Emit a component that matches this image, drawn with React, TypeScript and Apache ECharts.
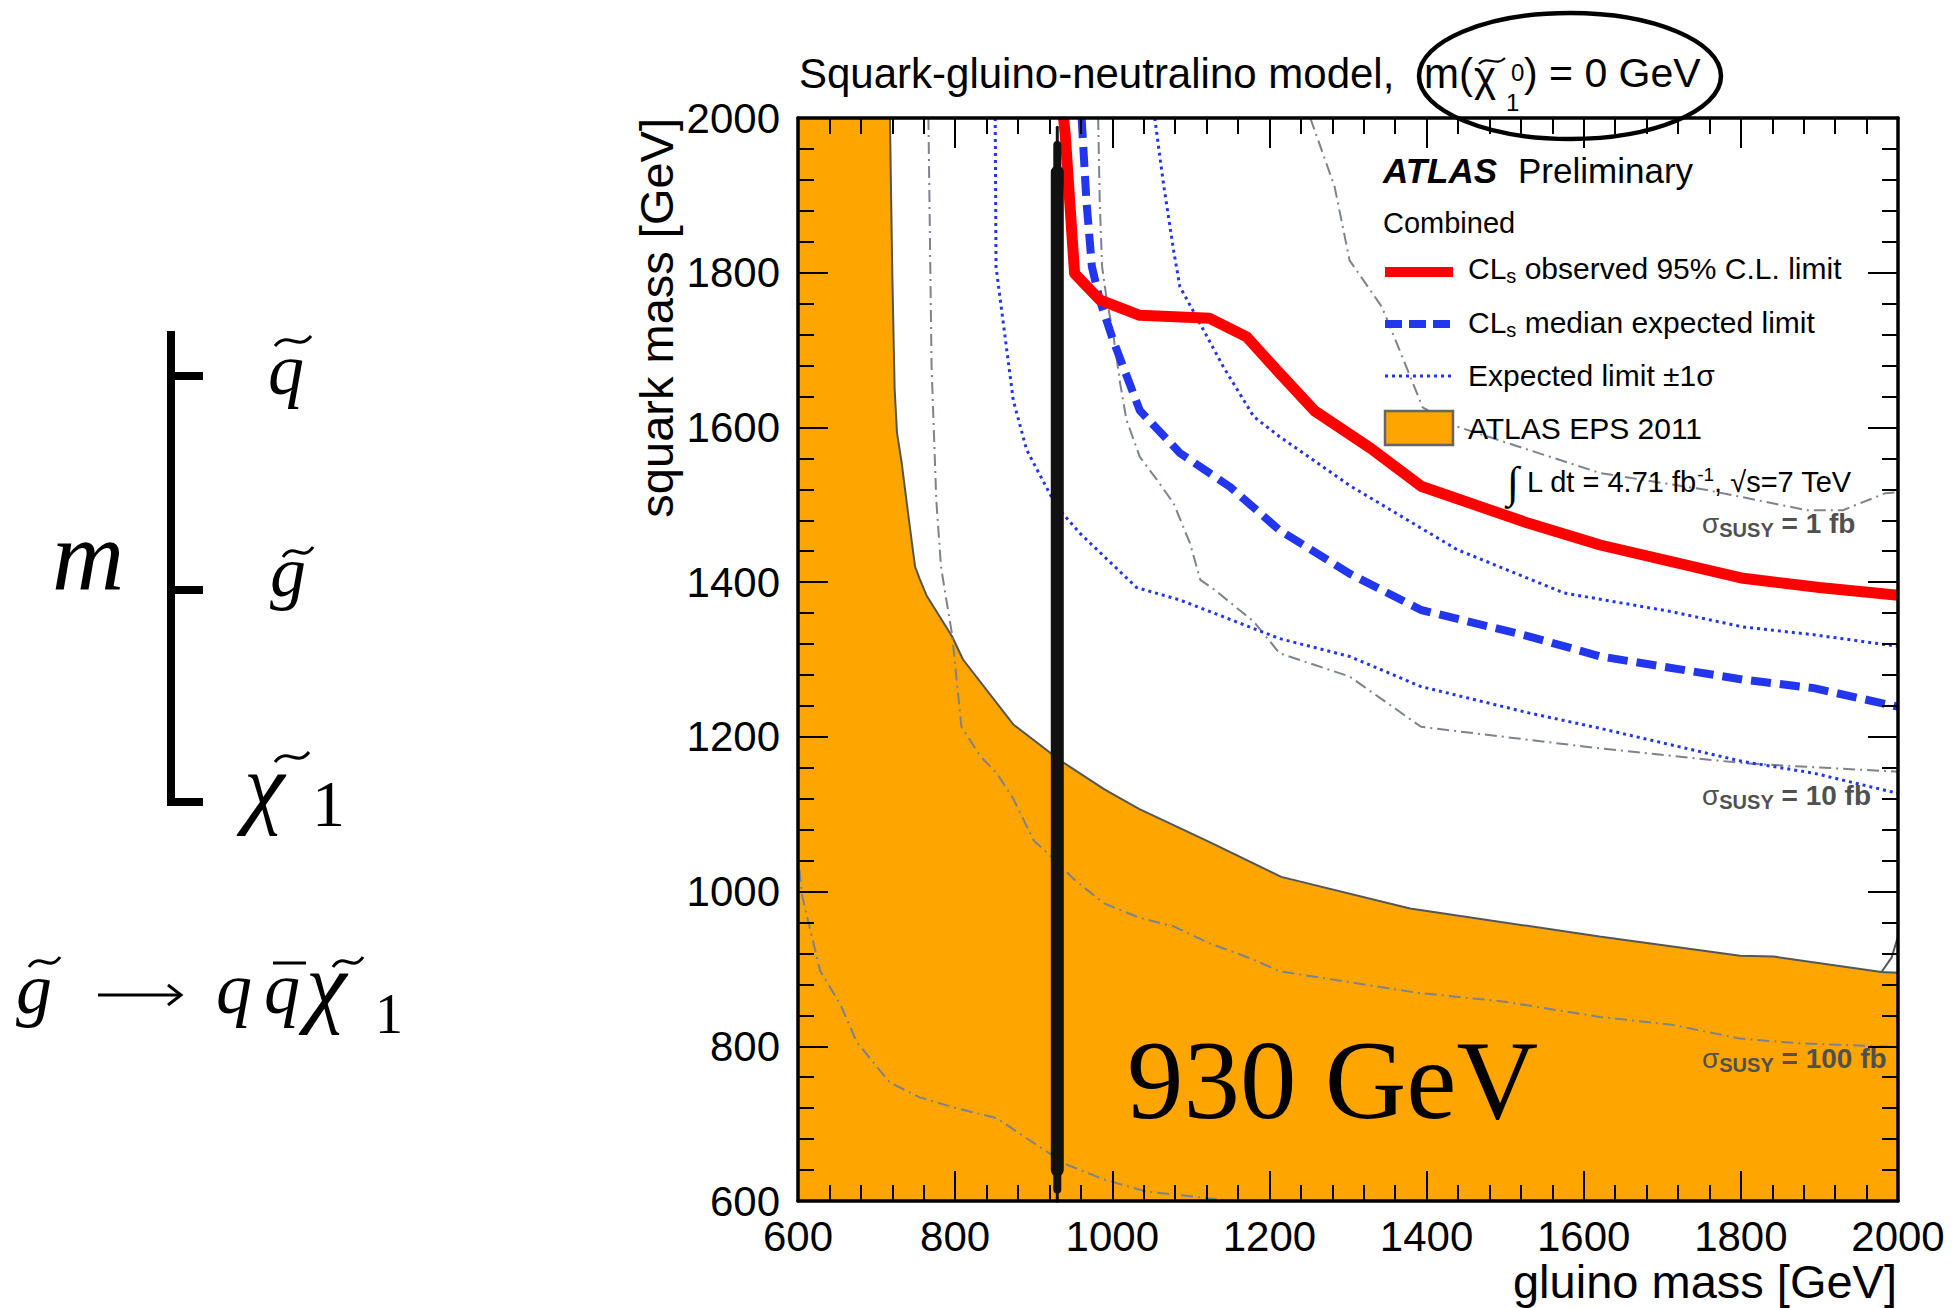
import React, { useEffect, useRef } from "react";
import * as echarts from "echarts";

// ---- axes ----
const axisMin = 600;
const axisMax = 2000;
const axisStep = 200;

// ---- ATLAS EPS 2011 excluded region (gluino, squark) ----
const epsG = [600, 717, 720, 723, 726, 732, 740, 749, 755, 764, 796, 810, 874, 933, 990, 1034, 1124, 1215, 1379, 1620, 1799, 1842, 1979, 2000];
const epsS = [2000, 2000, 1800, 1650, 1593, 1554, 1490, 1420, 1404, 1382, 1330, 1300, 1216, 1170, 1132, 1107, 1064, 1019, 978, 942, 917, 916, 896, 895];
const epsTailG = [1979, 1992, 2000];
const epsTailS = [896, 915, 942];

// ---- CLs observed 95% C.L. limit ----
const obsG = [938, 940, 952, 984, 1035, 1124, 1171, 1213, 1258, 1329, 1393, 1530, 1621, 1803, 1900, 2000];
const obsS = [2000, 1980, 1799, 1765, 1745, 1741, 1717, 1670, 1621, 1573, 1524, 1476, 1448, 1405, 1393, 1383];

// ---- CLs median expected limit ----
const expG = [961, 967, 974, 984, 1001, 1035, 1086, 1150, 1213, 1302, 1393, 1530, 1621, 1803, 1893, 2000];
const expS = [2000, 1894, 1808, 1765, 1713, 1622, 1567, 1523, 1467, 1411, 1364, 1330, 1304, 1274, 1263, 1239];

// ---- expected limit -1 sigma / +1 sigma ----
const expLoG = [851, 852, 874, 891, 929, 959, 1031, 1086, 1213, 1302, 1393, 1530, 1621, 1803, 1893, 2000];
const expLoS = [2000, 1808, 1635, 1571, 1498, 1463, 1393, 1377, 1327, 1304, 1265, 1231, 1211, 1168, 1153, 1127];
const expHiG = [1054, 1065, 1078, 1086, 1107, 1141, 1180, 1213, 1302, 1439, 1575, 1711, 1803, 1893, 2000];
const expHiS = [2000, 1916, 1829, 1782, 1743, 1679, 1614, 1588, 1525, 1442, 1386, 1362, 1342, 1332, 1317];

// ---- cross-section contours ----
const xs1G = [1252, 1283, 1302, 1343, 1362, 1395, 1439, 1621, 1757, 1884, 1930, 1984, 2000];
const xs1S = [2000, 1911, 1816, 1756, 1709, 1626, 1601, 1541, 1519, 1493, 1493, 1515, 1516];
const xs10G = [982, 984, 987, 993, 1001, 1010, 1018, 1035, 1057, 1078, 1099, 1112, 1129, 1180, 1213, 1302, 1393, 1621, 1803, 1870, 2000];
const xs10S = [2000, 1894, 1808, 1765, 1722, 1657, 1610, 1562, 1532, 1502, 1450, 1403, 1391, 1349, 1308, 1278, 1213, 1185, 1166, 1162, 1155];
const xs100G = [766, 770, 776, 782, 789, 796, 808, 832, 853, 874, 900, 929, 950, 989, 1035, 1078, 1124, 1175, 1213, 1389, 1497, 1620, 1711, 1799, 1872, 2000];
const xs100S = [2000, 1679, 1506, 1420, 1376, 1333, 1213, 1175, 1153, 1120, 1066, 1039, 1017, 985, 966, 955, 933, 914, 897, 869, 858, 838, 828, 810, 804, 799];
const xsLowG = [602, 605, 628, 654, 675, 717, 755, 798, 853, 900, 942, 989, 1044, 1100, 1155];
const xsLowS = [1028, 996, 898, 854, 805, 753, 734, 721, 707, 675, 647, 628, 612, 606, 600];

// ---- hand-marked gluino limit ----
const gluinoLimit = 930;
const markTop = [1988, 1965, 1930];
const markBottom = [596, 615, 640];

const SANS = '"Liberation Sans", Arial, Helvetica, sans-serif';
const SERIF = '"Liberation Serif", "Times New Roman", serif';

const pairs = (g: number[], s: number[]) => g.map((x, i) => [x, s[i]]);

function lineSeries(data: number[][], color: string, width: number, type: any, z = 3, cap = "butt"): any {
  return {
    type: "line",
    data,
    symbol: "none",
    silent: true,
    z,
    lineStyle: { color, width, type, cap, join: "round" },
  };
}

function txt(x: number, y: number, text: string, size: number, o: any = {}): any {
  return {
    type: "text",
    x,
    y,
    z: 50,
    rotation: o.rotation || 0,
    style: {
      text,
      fontSize: size,
      fontFamily: o.family || SANS,
      fontWeight: o.weight || "normal",
      fontStyle: o.style || "normal",
      fill: o.color || "#000",
      align: o.align || "left",
      verticalAlign: o.valign || "middle",
      rich: o.rich,
    },
  };
}

function tilde(xa: number, xb: number, yc: number, a: number, w = 3): any {
  const span = xb - xa;
  return {
    type: "bezierCurve",
    z: 50,
    shape: {
      x1: xa, y1: yc + a,
      cpx1: xa + span * 0.35, cpy1: yc - 2.2 * a,
      cpx2: xa + span * 0.65, cpy2: yc + 2.2 * a,
      x2: xb, y2: yc - a,
    },
    style: { stroke: "#000", lineWidth: w, fill: null },
  };
}

function seg(x1: number, y1: number, x2: number, y2: number, w: number, color = "#000", dash: any = null): any {
  return {
    type: "line",
    z: 50,
    shape: { x1, y1, x2, y2 },
    style: { stroke: color, lineWidth: w, lineDash: dash, lineCap: "butt" },
  };
}

function axis(position: string, showLabel: boolean, isY: boolean): any {
  return {
    type: "value",
    position,
    min: axisMin,
    max: axisMax,
    interval: axisStep,
    z: 10,
    axisLine: { show: true, onZero: false, lineStyle: { color: "#000", width: 3.5 } },
    axisTick: { show: true, inside: true, length: 30, lineStyle: { color: "#000", width: 2 } },
    minorTick: { show: true, splitNumber: 5, length: 16, lineStyle: { color: "#000", width: 2 } },
    splitLine: { show: false },
    minorSplitLine: { show: false },
    axisLabel: {
      show: showLabel,
      color: "#000",
      fontSize: 42,
      fontFamily: SANS,
      margin: isY ? 18 : 14,
      showMinLabel: true,
      showMaxLabel: true,
      formatter: (v: number) => String(v),
    },
  };
}

const subStyle = (size: number, base: any = {}) => ({ fontSize: size, fontFamily: SANS, lineHeight: size, verticalAlign: "bottom", ...base });
const supStyle = (size: number, base: any = {}) => ({ fontSize: size, fontFamily: SANS, lineHeight: size, verticalAlign: "top", ...base });

export default function App() {
  const ref = useRef<HTMLDivElement>(null);

  useEffect(() => {
    if (!ref.current) return;
    const chart = echarts.init(ref.current, null, { renderer: "svg" });

    const gray = "#7d828c";
    const dashDot = [12, 5, 2, 5];
    const blue = "#2236ee";

    const legendText = { fontSize: 30, fontFamily: SANS, lineHeight: 36, fill: "#000" };
    const sigmaRich = {
      g: { fontSize: 28, fontFamily: SANS, lineHeight: 34, fill: "#505050" },
      b: subStyle(20, { fontWeight: "bold", fill: "#505050" }),
      c: { fontSize: 28, fontFamily: SANS, fontWeight: "bold", lineHeight: 34, fill: "#505050" },
    };
    const it = { family: SERIF, style: "italic" };

    const graphics: any[] = [
      // title
      txt(799, 73, "Squark-gluino-neutralino model,", 42),
      txt(1424, 73, "m(", 42),
      txt(1474, 76, "χ", 42),
      tilde(1479, 1505, 61, 3, 2.2),
      txt(1511, 72, "0", 24),
      txt(1506, 102, "1", 24),
      txt(1524, 73, ") = 0 GeV", 41),
      {
        type: "ellipse",
        z: 50,
        shape: { cx: 1570, cy: 76, rx: 151, ry: 63 },
        style: { fill: null, stroke: "#000", lineWidth: 4.5 },
      },
      // axis titles
      txt(656, 118, "squark mass [GeV]", 47, { rotation: Math.PI / 2, align: "right" }),
      txt(1897, 1281, "gluino mass [GeV]", 47, { align: "right" }),
      // ATLAS labels
      txt(1383, 170, "ATLAS", 35, { weight: "bold", style: "italic" }),
      txt(1518, 170, "Preliminary", 35),
      txt(1383, 223, "Combined", 29),
      // legend samples
      seg(1385, 272, 1453, 272, 10, "#ff0000"),
      seg(1385, 324, 1453, 324, 8, blue, [17, 7]),
      seg(1385, 376, 1453, 376, 3, blue, [3, 4]),
      {
        type: "rect",
        z: 50,
        shape: { x: 1385, y: 411, width: 68, height: 34 },
        style: { fill: "#ffa500", stroke: "#666", lineWidth: 2.5 },
      },
      txt(1468, 268, "{a|CL}{s|s}{a| observed 95% C.L. limit}", 30, {
        rich: { a: legendText, s: subStyle(20) },
      }),
      txt(1468, 322, "{a|CL}{s|s}{a| median expected limit}", 30, {
        rich: { a: legendText, s: subStyle(20) },
      }),
      txt(1468, 375, "Expected limit ±1σ", 30),
      txt(1468, 428, "ATLAS EPS 2011", 30),
      txt(1507, 482, "{i|∫}{t| L dt = 4.71 fb}{p|-1}{t|, √s=7 TeV}", 29, {
        rich: {
          i: { fontSize: 44, fontFamily: SERIF, lineHeight: 34 },
          t: { fontSize: 29, fontFamily: SANS, lineHeight: 34 },
          p: supStyle(19),
        },
      }),
      // cross-section labels
      txt(1702, 523, "{g|σ}{b|SUSY}{c| = 1 fb}", 28, { rich: sigmaRich }),
      txt(1702, 795, "{g|σ}{b|SUSY}{c| = 10 fb}", 28, { rich: sigmaRich }),
      txt(1702, 1058, "{g|σ}{b|SUSY}{c| = 100 fb}", 28, { rich: sigmaRich }),
      // limit annotation
      txt(1127, 1079, `${gluinoLimit} GeV`, 113, { family: SERIF }),
      // mass hierarchy sketch
      seg(171, 331, 171, 806, 8),
      seg(167, 376, 203, 376, 8),
      seg(167, 590, 203, 590, 8),
      seg(167, 802, 203, 802, 8),
      txt(52, 555, "m", 100, it),
      txt(268, 370, "q", 72, it),
      tilde(275, 311, 341, 5),
      txt(270, 572, "g", 72, it),
      tilde(283, 313, 552, 5),
      txt(244, 786, "χ", 92, it),
      tilde(275, 309, 757, 5),
      txt(312, 803, "1", 66, { family: SERIF }),
      // decay
      txt(16, 989, "g", 72, it),
      tilde(29, 60, 962, 5),
      seg(98, 995, 180, 995, 3),
      {
        type: "polyline",
        z: 50,
        shape: { points: [[168, 985], [181, 995], [168, 1005]] },
        style: { stroke: "#000", lineWidth: 3, fill: null },
      },
      txt(216, 989, "q", 72, it),
      txt(264, 989, "q", 72, it),
      seg(273, 963, 306, 963, 3),
      txt(306, 985, "χ", 92, it),
      tilde(333, 363, 962, 5),
      txt(375, 1014, "1", 56, { family: SERIF }),
    ];

    const markWidths = [3, 8, 13];

    const option: any = {
      animation: false,
      backgroundColor: "#fff",
      grid: { left: 798, top: 118, width: 1100, height: 1083, containLabel: false },
      xAxis: [axis("bottom", true, false), axis("top", false, false)],
      yAxis: [axis("left", true, true), axis("right", false, true)],
      series: [
        {
          type: "line",
          data: pairs(epsG, epsS),
          symbol: "none",
          silent: true,
          z: 1,
          lineStyle: { color: "#555", width: 2 },
          areaStyle: { color: "#ffa500", opacity: 1, origin: "start" },
        },
        lineSeries(pairs(epsTailG, epsTailS), "#555", 2, "solid", 1),
        lineSeries(pairs(xsLowG, xsLowS), gray, 2, dashDot, 2),
        lineSeries(pairs(xs100G, xs100S), gray, 2, dashDot, 2),
        lineSeries(pairs(xs10G, xs10S), gray, 2, dashDot, 2),
        lineSeries(pairs(xs1G, xs1S), gray, 2, dashDot, 2),
        lineSeries(pairs(expLoG, expLoS), blue, 3, [3, 4]),
        lineSeries(pairs(expHiG, expHiS), blue, 3, [3, 4]),
        lineSeries(pairs(expG, expS), blue, 8, [20, 9]),
        lineSeries(pairs(obsG, obsS), "#ff0000", 11, "solid", 4),
        ...markWidths.map((w, i) =>
          lineSeries(
            [
              [gluinoLimit, markTop[i]],
              [gluinoLimit, markBottom[i]],
            ],
            "#111",
            w,
            "solid",
            5,
            "round"
          )
        ),
      ],
      graphic: { elements: graphics },
    };

    chart.setOption(option);
    return () => chart.dispose();
  }, []);

  return (
    <div
      ref={ref}
      style={{ position: "absolute", left: 0, top: 0, width: 1955, height: 1308, background: "#fff" }}
    />
  );
}
